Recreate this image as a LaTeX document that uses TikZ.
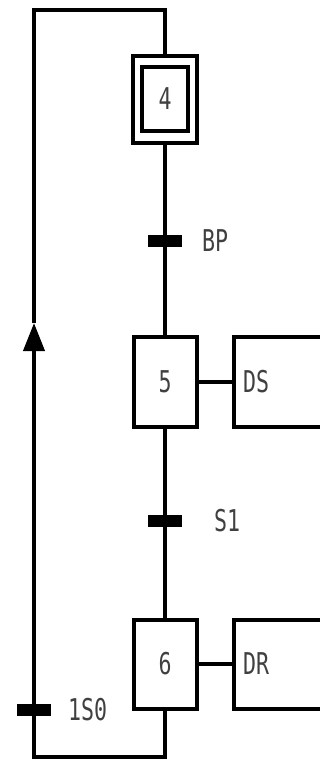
\documentclass[tikz,border=0pt]{standalone}
\usepackage{fontspec}
\usepackage{tikz}
\usetikzlibrary{%
  arrows.meta,%
  positioning%
}
\newfontfamily\grafcetfont[FakeStretch=0.72]{DejaVu Sans Mono}

\begin{document}
\begin{tikzpicture}[
    x=1pt, y=-1pt,
    line width=4pt,
    every node/.style={font=\grafcetfont\fontsize{30}{30}\selectfont, text=black!75},
    stepbox/.style={draw, fill=white, minimum width=63pt, minimum height=90pt, inner sep=0pt},
    initframe/.style={draw, minimum width=64pt, minimum height=87pt, inner sep=0pt},
    action/.style={draw, fill=white, anchor=west, minimum height=90pt,
        text width=100pt, align=left, inner xsep=9pt},
    trans/.style={fill=black, minimum width=34pt, minimum height=12pt, inner sep=0pt},
    cond/.style={inner sep=0pt}
]
    \useasboundingbox (0,0) rectangle (320,762);
    \clip (0,0) rectangle (320,762);

    % steps
    \node[stepbox, minimum width=46pt, minimum height=64pt] (x4) at (165,99) {4};
    \node[initframe] (x4b) at (165,99.5) {};
    \node[stepbox] (x5) at (165,382) {5};
    \node[stepbox, minimum height=89pt] (x6) at (165,664) {6};

    % actions
    \node[action] (ds) at (232,382) {DS};
    \node[action, minimum height=89pt] (dr) at (232,664) {DR};

    % transitions
    \node[trans] (t1) at (165,241) {};
    \node[trans] (t2) at (165,521) {};
    \node[trans] (t3) at (34,710) {};
    \node[cond, right=16pt of t1] (c1) {BP};
    \node[cond, right=28pt of t2] (c2) {S1};
    \node[cond, right=13pt of t3] (c3) {1S0};

    \coordinate (bl) at (34,757);
    \coordinate (tl) at (34,10);
    \coordinate (up) at (34,323);

    \draw (x4b) -- (x5);
    \draw (x5) -- (x6);
    \draw (x5) -- (ds);
    \draw (x6) -- (dr);
    % loop back to step 4
    \draw[-{Triangle[length=28pt,width=21pt]}] (x6.south) |- (bl) -- (up);
    \draw (up) -- (tl) -| (x4b.north);
\end{tikzpicture}
\end{document}
